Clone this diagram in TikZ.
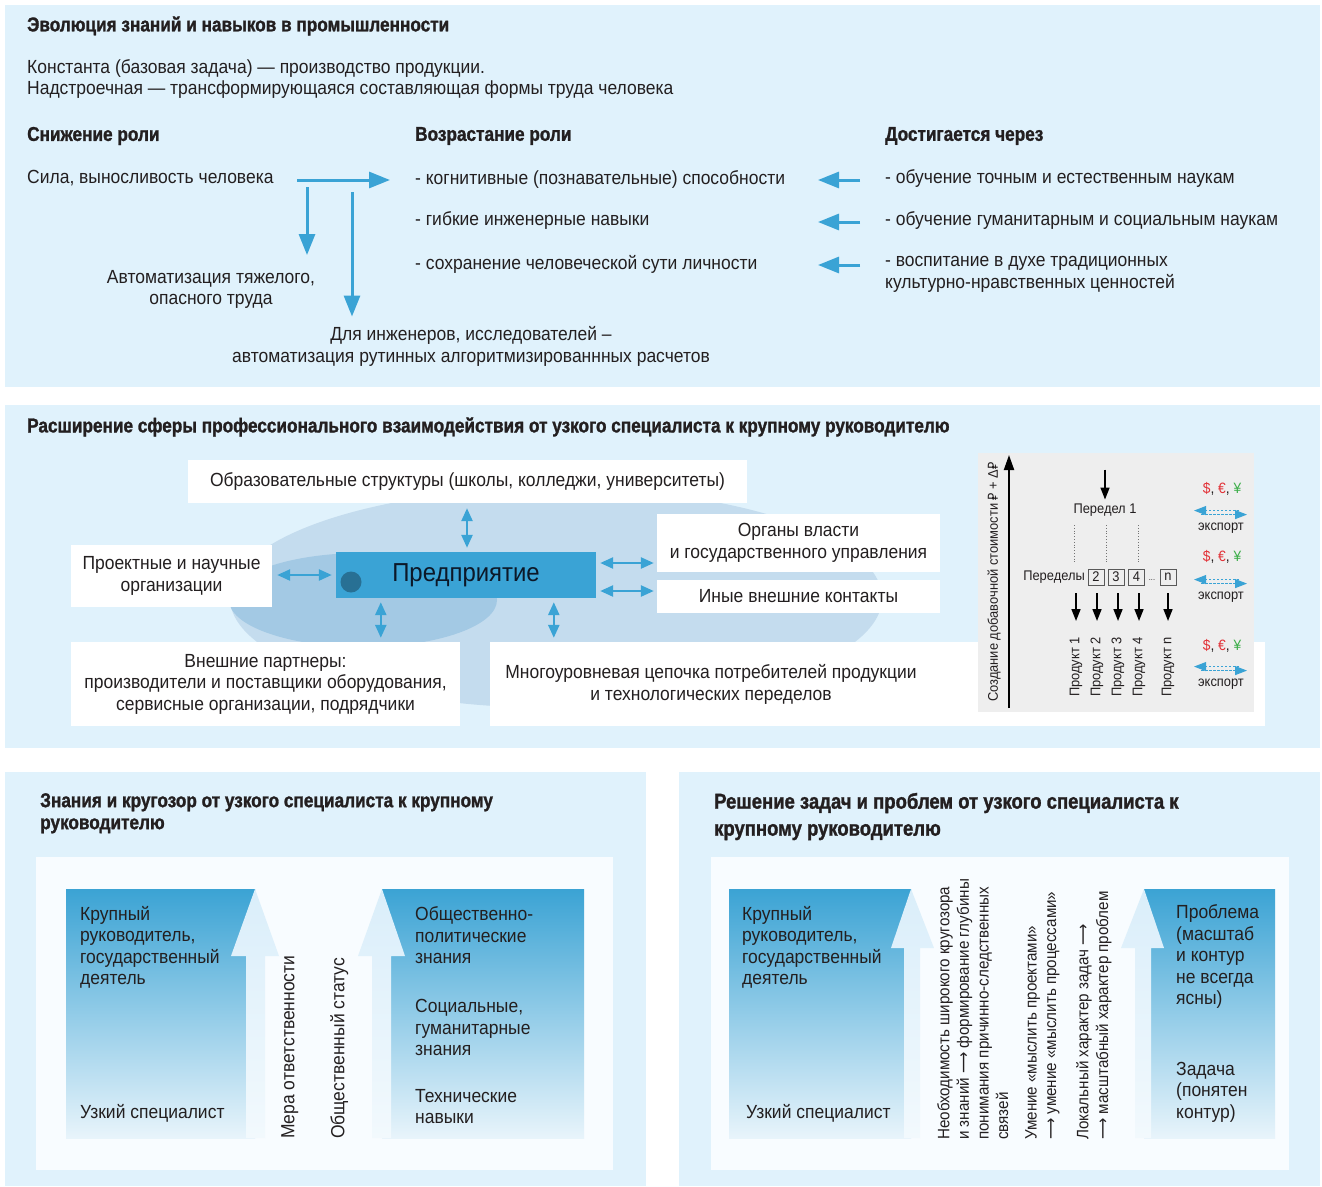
\documentclass[tikz,border=0pt]{standalone}
\usepackage{fontspec}
\setmainfont{Liberation Sans}[FakeStretch=0.92, BoldFeatures={FakeStretch=0.86,FakeBold=1.3}]
\newfontfamily\rub{Noto Sans}[FakeStretch=0.9]
\newfontfamily\dvs{DejaVu Sans}[FakeStretch=0.9]
\usetikzlibrary{arrows.meta,calc}
\definecolor{panel}{RGB}{224,242,252}
\definecolor{bluea}{RGB}{58,163,213}
\definecolor{ell1}{RGB}{196,220,238}
\definecolor{ell2}{RGB}{163,201,228}
\definecolor{dotc}{RGB}{40,112,148}
\definecolor{txtc}{RGB}{35,31,32}
\definecolor{chartbg}{RGB}{238,238,238}
\definecolor{cred}{RGB}{226,48,54}
\definecolor{cgreen}{RGB}{60,174,73}
\definecolor{gtop}{RGB}{59,163,212}
\definecolor{gbot}{RGB}{232,244,251}
\definecolor{atop}{RGB}{218,238,250}
\definecolor{abot}{RGB}{242,249,253}
\definecolor{innerc}{RGB}{248,252,255}
\newcommand{\lar}{{\dvs ⟶}}
\tikzset{
  txt/.style={font=\fontsize{19}{21.5}\selectfont, text=txtc, inner sep=0pt},
  ttl/.style={font=\bfseries\fontsize{20}{22}\selectfont, text=txtc, inner sep=0pt, anchor=west, align=left},
  wbox/.style={txt, fill=white, align=center},
  chtxt/.style={font=\fontsize{14}{16}\selectfont, text=txtc, inner sep=0pt},
  bluarr/.style={draw=bluea, line width=3pt, -{Triangle[length=21pt,width=16pt]}},
  dbl/.style={draw=bluea, line width=2.5pt, {Triangle[length=13pt,width=11pt]}-{Triangle[length=13pt,width=11pt]}},
  blk/.style={draw=black, line width=1.6pt, -{Triangle[length=12pt,width=9pt]}},
  expl/.style={draw=bluea, line width=1pt, dash pattern=on 2.5pt off 1.5pt, -{Triangle[length=12pt,width=9pt]}},
  nbox/.style={chtxt, draw=black!65, line width=1pt, minimum width=16pt, minimum height=16pt},
  rot/.style={txt, rotate=90, anchor=north west, align=left},
  gbox/.style={top color=gtop, bottom color=gbot},
  garr/.style={top color=atop, bottom color=abot}
}
\begin{document}
\begin{tikzpicture}[x=1pt,y=-1pt]
\useasboundingbox (0,0) rectangle (1322,1186);
\fill[white] (0,0) rectangle (1322,1186);
% ================= panel 1
\fill[panel] (5,5) rectangle (1320,387);
\node[ttl] (t1) at (27,26) {Эволюция знаний и навыков в промышленности};
\node[txt, anchor=west, align=left] (c1) at (27,79) {Константа (базовая задача) — производство продукции.\\Надстроечная — трансформирующаяся составляющая формы труда человека};
\node[ttl] (h1) at (27,136) {Снижение роли};
\node[ttl] (h2) at (415,136) {Возрастание роли};
\node[ttl] (h3) at (885,136) {Достигается через};
\node[txt, anchor=west] (s1) at (27,178) {Сила, выносливость человека};
\node[txt, anchor=west] (m1) at (415,179) {- когнитивные (познавательные) способности};
\node[txt, anchor=west] (m2) at (415,221) {- гибкие инженерные навыки};
\node[txt, anchor=west] (m3) at (415,264) {- сохранение человеческой сути личности};
\node[txt, anchor=west] (r1) at (885,179) {- обучение точным и естественным наукам};
\node[txt, anchor=west] (r2) at (885,221) {- обучение гуманитарным и социальным наукам};
\node[txt, anchor=west, align=left] (r3) at (885,274.5) {- воспитание в духе традиционных\\культурно-нравственных ценностей};
\node[txt, align=center] (a1) at (211,289.5) {Автоматизация тяжелого,\\опасного труда};
\node[txt, align=center] (a2) at (471,346.5) {Для инженеров, исследователей –\\автоматизация рутинных алгоритмизированнных расчетов};
\coordinate (hs) at (297,180);
\draw[bluarr] (hs) -- ($(m1.west)+(-25,1)$);
\draw[bluarr] (307,187) -- ($(a1.north)+(96,-15)$);
\draw[bluarr] (352,192) -- ($(a2.north)+(-119,-10)$);
\draw[bluarr] ($(r1.west)+(-25,1)$) -- ($(r1.west)+(-67,1)$);
\draw[bluarr] ($(r2.west)+(-25,1)$) -- ($(r2.west)+(-67,1)$);
\draw[bluarr] ($(r3.west)+(-25,-9.5)$) -- ($(r3.west)+(-67,-9.5)$);
% ================= panel 2
\fill[panel] (5,405) rectangle (1320,748);
\node[ttl] (t2) at (27,427) {Расширение сферы профессионального взаимодействия от узкого специалиста к крупному руководителю};
\fill[ell1] (556,598) ellipse [x radius=326, y radius=110];
\fill[ell2] (363,600) ellipse [x radius=134, y radius=47];
\node[wbox, minimum width=559pt, minimum height=43pt] (edu) at (467.5,481.5) {Образовательные структуры (школы, колледжи, университеты)};
\node[wbox, minimum width=201pt, minimum height=62pt] (proj) at (171.5,576) {Проектные и научные\\организации};
\node[fill=bluea, minimum width=260pt, minimum height=46pt, inner sep=0pt, font=\fontsize{26}{28}\selectfont, text={rgb,255:red,12;green,24;blue,40}] (ent) at (466,575) {Предприятие};
\node[circle, fill=dotc, minimum size=21pt, inner sep=0pt] (dt) at (351,582) {};
\node[wbox, minimum width=283pt, minimum height=58pt] (org) at (798.5,543) {Органы власти\\и государственного управления};
\node[wbox, minimum width=283pt, minimum height=33pt] (oth) at (798.5,596.5) {Иные внешние контакты};
\node[wbox, minimum width=389pt, minimum height=84pt] (part) at (265.5,684) {Внешние партнеры:\\производители и поставщики оборудования,\\сервисные организации, подрядчики};
\node[fill=white, minimum width=775pt, minimum height=84pt, inner sep=0pt] (chain) at (877.5,684) {};
\node[txt, align=center] (chaint) at (711,684.5) {Многоуровневая цепочка потребителей продукции\\и технологических переделов};
\draw[dbl] ($(edu.south)+(-0.5,5)$) -- ($(ent.north)+(1,-4)$);
\draw[dbl] ($(proj.east)+(5,-1)$) -- ($(ent.west)+(-4,0)$);
\draw[dbl] ($(ent.south west)+(45,4)$) -- ($(part.north west)+(310,-4)$);
\draw[dbl] ($(ent.south west)+(218,4)$) -- ($(chain.north west)+(64,-4)$);
\draw[dbl] ($(ent.east)+(4,-12)$) -- ($(org.west)+(-3,20)$);
\draw[dbl] ($(ent.east)+(4,16)$) -- ($(oth.west)+(-3,-5.5)$);
% chart
\node[fill=chartbg, minimum width=276pt, minimum height=259pt, inner sep=0pt] (chart) at (1116,582.5) {};
\coordinate (ax0) at (1009,708);
\coordinate (ax1) at (1009,455);
\draw[line width=2pt, -{Triangle[length=15pt,width=10pt]}] (ax0) -- (ax1);
\node[chtxt, rotate=90] (axl) at (994,582) {Создание добавочной стоимости {\rub ₽} + Δ{\rub ₽}};
\node[chtxt] (p1) at (1105,510) {Передел 1};
\draw[blk] ($(p1.north)+(0,-34)$) -- ($(p1.north)+(0,-4)$);
\draw[line width=0.8pt, dotted, black!55] (1074,525) -- (1074,562);
\draw[line width=0.8pt, dotted, black!55] (1106,525) -- (1106,562);
\draw[line width=0.8pt, dotted, black!55] (1138,525) -- (1138,562);
\node[chtxt, anchor=east] (pl) at (1085,577) {Переделы};
\node[nbox] (b2) at (1096,577) {2};
\node[nbox] (b3) at (1116,577) {3};
\node[nbox] (b4) at (1136.5,577) {4};
\node[chtxt, font=\fontsize{8}{9}\selectfont] (bd) at (1152,580) {...};
\node[nbox] (bn) at (1168,577) {n};
\foreach \x/\n [count=\i] in {1076/1,1097/2,1118/3,1139/4,1168/n}{
  \node[chtxt, rotate=90, anchor=east] (q\i) at (\x,637) {Продукт \n};
  \draw[blk] ($(q\i.east)+(0,-44)$) -- ($(q\i.east)+(0,-16)$);
}
\foreach \i/\yc/\ye in {1/489/528, 2/557/597, 3/646/684}{
  \node[chtxt, font=\fontsize{15}{17}\selectfont] (cur\i) at (1222,\yc) {\textcolor{cred}{\$}, \textcolor{cred}{€}, \textcolor{cgreen}{¥}};
  \node[chtxt] (ex\i) at (1221,\ye) {экспорт};
  \draw[expl] ($(ex\i.north)+(18,-12)$) -- ($(ex\i.north)+(-27,-12)$);
  \draw[expl] ($(ex\i.north)+(-20,-8)$) -- ($(ex\i.north)+(26,-8)$);
}
% ================= panel 3
\fill[panel] (5,772) rectangle (646,1186);
\node[ttl, anchor=north west] (t3) at (40,793) {Знания и кругозор от узкого специалиста к крупному\\руководителю};
\fill[innerc] (36,857) rectangle (613,1170);
\shade[gbox] (66,889) rectangle (255,1138);
\shade[garr] (246,1138) -- (246,956) -- (231,956) -- (255,889) -- (279,956) -- (265,956) -- (265,1138) -- cycle;
\shade[gbox] (382,889) rectangle (584,1138);
\shade[garr] (372,1138) -- (372,956) -- (358,956) -- (382,889) -- (405,956) -- (391,956) -- (391,1138) -- cycle;
\node[txt, anchor=west, align=left] (k1) at (80,947.5) {Крупный\\руководитель,\\государственный\\деятель};
\node[txt, anchor=west] (k2) at (80,1113) {Узкий специалист};
\node[rot] (mr) at (281,1139) {Мера ответственности};
\node[rot] (os) at (330,1139) {Общественный статус};
\node[txt, anchor=west, align=left] (z1) at (415,935.5) {Общественно-\\политические\\знания};
\node[txt, anchor=west, align=left] (z2) at (415,1027.5) {Социальные,\\гуманитарные\\знания};
\node[txt, anchor=west, align=left] (z3) at (415,1106.5) {Технические\\навыки};
% ================= panel 4
\fill[panel] (679,772) rectangle (1320,1186);
\node[ttl, anchor=west, font=\bfseries\fontsize{21.5}{27}\selectfont] (t4) at (714,816.5) {Решение задач и проблем от узкого специалиста к\\крупному руководителю};
\fill[innerc] (711,857) rectangle (1289,1170);
\shade[gbox] (729,889) rectangle (911,1138);
\shade[garr] (904,1138) -- (904,948) -- (891,948) -- (911,889) -- (934,948) -- (920,948) -- (920,1138) -- cycle;
\shade[gbox] (1144,889) rectangle (1275,1138);
\shade[garr] (1135,1138) -- (1135,948) -- (1121,948) -- (1144,889) -- (1164,948) -- (1151,948) -- (1151,1138) -- cycle;
\node[txt, anchor=west, align=left] (k3) at (742,947.5) {Крупный\\руководитель,\\государственный\\деятель};
\node[txt, anchor=west] (k4) at (746,1113) {Узкий специалист};
\node[rot, font=\fontsize{16.5}{19.6}\selectfont] (n1) at (937,1140) {Необходимость широкого кругозора\\и знаний \lar{} формирование глубины\\понимания причинно-следственных\\связей};
\node[rot, font=\fontsize{16.5}{19.6}\selectfont] (n2) at (1025,1140) {Умение «мыслить проектами»\\\lar{} умение «мыслить процессами»};
\node[rot, font=\fontsize{16.5}{19.6}\selectfont] (n3) at (1076,1140) {Локальный характер задач \lar\\\lar{} масштабный характер проблем};
\node[txt, anchor=west, align=left] (pr) at (1176,956.5) {Проблема\\(масштаб\\и контур\\не всегда\\ясны)};
\node[txt, anchor=west, align=left] (zd) at (1176,1092) {Задача\\(понятен\\контур)};
\end{tikzpicture}
\end{document}
